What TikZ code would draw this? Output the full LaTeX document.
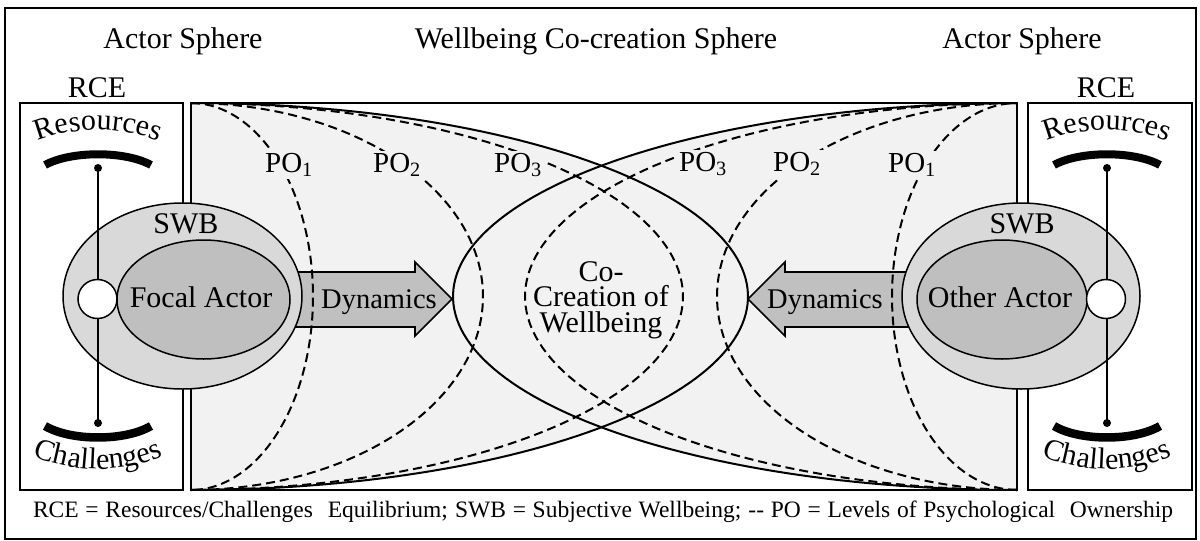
\documentclass[tikz,border=0pt]{standalone}
\usepackage{fontspec}
\setmainfont{Liberation Serif}
\usetikzlibrary{decorations.text}
\definecolor{bgfill}{HTML}{F2F2F2}
\definecolor{swbfill}{HTML}{D9D9D9}
\definecolor{actfill}{HTML}{BFBFBF}
\definecolor{dynfill}{HTML}{C0C0C0}
\begin{document}
\begin{tikzpicture}[x=1pt,y=-1pt,
  lbl/.style={inner sep=0pt, anchor=base, font=\fontsize{30}{36}\selectfont},
  dynlbl/.style={inner sep=0pt, anchor=base, font=\fontsize{28.5}{34}\selectfont},
  polbl/.style={fill=bgfill, inner sep=2pt, anchor=base, font=\fontsize{29}{34}\selectfont},
  pocurve/.style={line width=2pt, dash pattern=on 9pt off 5pt},
  solidcurve/.style={line width=2pt},
  boxline/.style={line width=2pt},
  ellline/.style={line width=1.5pt},
  arrowshape/.style={line width=1.6pt, fill=dynfill, line join=miter},
  crescent/.style={line width=8pt, line cap=butt},
]
\useasboundingbox (0,0) rectangle (1200,541);

% outer frame
\draw[boxline] (5,8) rectangle (1196,539);

% RCE boxes
\draw[boxline, fill=white] (20,103) rectangle (183,490);
\draw[boxline, fill=white] (1028,103) rectangle (1192,490);

% co-creation sphere fill (union of two half ellipses)
\fill[bgfill] plot[domain=-90:90, samples=120] ({191+557*cos(\x)},{296.5+193.5*sin(\x)}) -- cycle;
\fill[bgfill] plot[domain=90:270, samples=120] ({1017+564*cos(\x)},{296.5+193.5*sin(\x)}) -- cycle;
\draw[boxline] (191,103) rectangle (1017,490);

% solid half ellipses
\draw[solidcurve] plot[domain=-90:90, samples=120] ({191+557*cos(\x)},{296.5+193.5*sin(\x)});
\draw[solidcurve] plot[domain=90:270, samples=120] ({1017+564*cos(\x)},{296.5+193.5*sin(\x)});

% dynamics arrows
\draw[arrowshape] (280,272) -- (415,272) -- (415,262) -- (452,299) -- (415,336) -- (415,327) -- (280,327) -- cycle;
\draw[arrowshape] (925,272) -- (785,272) -- (785,262) -- (748,299) -- (785,336) -- (785,327) -- (925,327) -- cycle;

% psychological ownership curves
\draw[pocurve] plot[domain=-90:90, samples=100] ({191+122*cos(\x)},{296.5+193.5*sin(\x)});
\draw[pocurve] plot[domain=-90:90, samples=100] ({191+292*cos(\x)},{296.5+193.5*sin(\x)});
\draw[pocurve] plot[domain=-90:90, samples=100] ({191+492*cos(\x)},{296.5+193.5*sin(\x)});
\draw[pocurve] plot[domain=90:270, samples=100] ({1017+125*cos(\x)},{296.5+193.5*sin(\x)});
\draw[pocurve] plot[domain=90:270, samples=100] ({1017+300*cos(\x)},{296.5+193.5*sin(\x)});
\draw[pocurve] plot[domain=90:270, samples=100] ({1017+492*cos(\x)},{296.5+193.5*sin(\x)});

\node[polbl] (po1l) at (289,172) {PO\textsubscript{1}};
\node[polbl] (po2l) at (397,172) {PO\textsubscript{2}};
\node[polbl] (po3l) at (518,172) {PO\textsubscript{3}};
\node[polbl] (po3r) at (703,171) {PO\textsubscript{3}};
\node[polbl] (po2r) at (797,171) {PO\textsubscript{2}};
\node[polbl] (po1r) at (912,172) {PO\textsubscript{1}};

% SWB ellipses
\draw[ellline, fill=swbfill] (182.5,296) ellipse[x radius=119.5pt, y radius=93pt];
\draw[ellline, fill=actfill] (203.5,299.5) ellipse[x radius=86.5pt, y radius=59.5pt];
\draw[ellline, fill=swbfill] (1021,296) ellipse[x radius=119pt, y radius=93pt];
\draw[ellline, fill=actfill] (1002,299.5) ellipse[x radius=85pt, y radius=59.5pt];

% RCE balance, left
\coordinate (ltop) at (98,168);
\coordinate (lbot) at (98,423);
\draw[ellline] (ltop) -- (lbot);
\fill (ltop) circle[radius=4pt];
\fill (lbot) circle[radius=4pt];
\draw[ellline, fill=white] (97.5,299) circle[radius=19.5pt];
\draw[crescent] (45,165) .. controls (71,150.7) and (125,150.7) .. (151,165);
\draw[crescent, line width=8.5pt] (45,426) .. controls (71,441.3) and (125,441.3) .. (151,426);
\path[decorate, decoration={text along path, text align=center,
  text={|\fontsize{30}{36}\selectfont|Resources}}]
  plot[domain=-128:-52, samples=60] ({98+170*cos(\x)},{300+170*sin(\x)});
\path[decorate, decoration={text along path, text align=center,
  text={|\fontsize{30}{36}\selectfont|Challenges}}]
  plot[domain=128:52, samples=60] ({98+169*cos(\x)},{300+169*sin(\x)});

% RCE balance, right
\coordinate (rtop) at (1107,168);
\coordinate (rbot) at (1107,423);
\draw[ellline] (rtop) -- (rbot);
\fill (rtop) circle[radius=4pt];
\fill (rbot) circle[radius=4pt];
\draw[ellline, fill=white] (1106,299) circle[radius=19.5pt];
\draw[crescent] (1054,165) .. controls (1080,150.7) and (1134,150.7) .. (1160,165);
\draw[crescent, line width=8.5pt] (1054,426) .. controls (1080,441.3) and (1134,441.3) .. (1160,426);
\path[decorate, decoration={text along path, text align=center,
  text={|\fontsize{30}{36}\selectfont|Resources}}]
  plot[domain=-128:-52, samples=60] ({1107+170*cos(\x)},{300+170*sin(\x)});
\path[decorate, decoration={text along path, text align=center,
  text={|\fontsize{30}{36}\selectfont|Challenges}}]
  plot[domain=128:52, samples=60] ({1107+169*cos(\x)},{300+169*sin(\x)});

% texts
\node[lbl] (as1) at (183,48) {Actor Sphere};
\node[lbl] (wcs) at (596,48) {Wellbeing Co-creation Sphere};
\node[lbl] (as2) at (1022,48) {Actor Sphere};
\node[lbl] (rce1) at (97,97) {RCE};
\node[lbl] (rce2) at (1106,97) {RCE};
\node[lbl] (swb1) at (186,233) {SWB};
\node[lbl] (swb2) at (1022,233) {SWB};
\node[lbl] (fa) at (201,307) {Focal Actor};
\node[lbl] (oa) at (1000,307) {Other Actor};
\node[dynlbl] (dyn1) at (379,308) {Dynamics};
\node[dynlbl] (dyn2) at (825,308) {Dynamics};
\node[inner sep=0pt, align=center, font=\fontsize{30}{25.5}\selectfont] (cocr) at (601,300) {Co-\\Creation of\\Wellbeing};

\node[inner sep=0pt, anchor=base, font=\fontsize{23.5}{28}\selectfont] (cap) at (603,517)
  {\makebox[1140pt][s]{RCE = Resources/Challenges\hspace{8pt} Equilibrium; SWB = Subjective Wellbeing; -{}- PO = Levels of Psychological\hspace{8pt} Ownership}};
\end{tikzpicture}
\end{document}
